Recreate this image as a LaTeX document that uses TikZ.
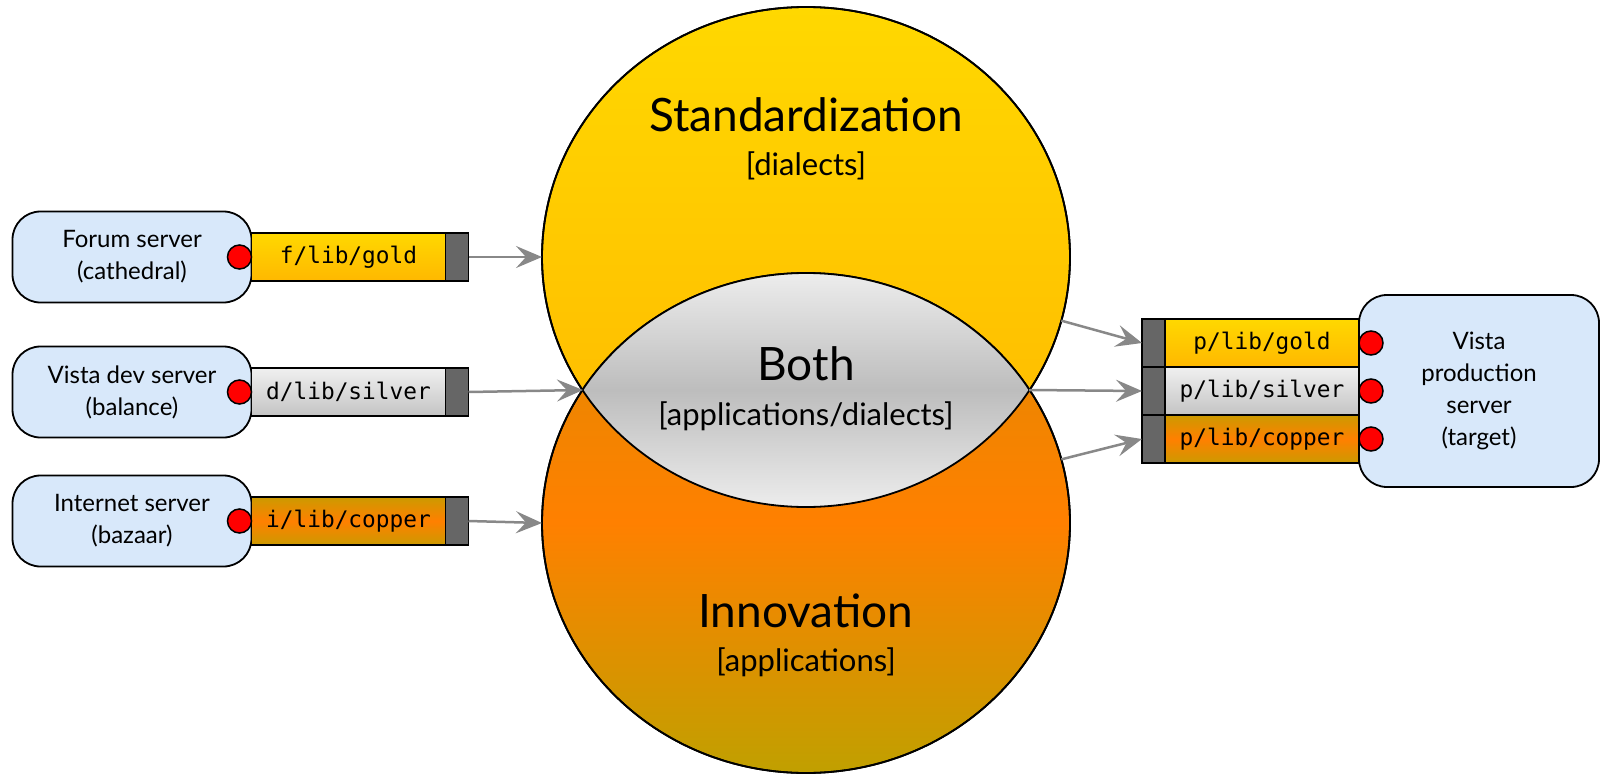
\documentclass[tikz,border=0pt]{standalone}
\usepackage{fontspec}
\setmainfont{Lato}
\setmonofont{DejaVu Sans Mono}
\usetikzlibrary{positioning,shapes.geometric,arrows.meta}

\definecolor{goldtop}{HTML}{FFD800}
\definecolor{goldbot}{HTML}{FFB800}
\definecolor{innertop}{HTML}{E08A00}
\definecolor{coppermid}{HTML}{FF8000}
\definecolor{copperedge}{HTML}{CC9A00}
\definecolor{innerbot}{HTML}{C0A000}
\definecolor{silvertop}{HTML}{F0F0F0}
\definecolor{silverbot}{HTML}{C4C4C4}
\definecolor{lensedge}{HTML}{EDEDED}
\definecolor{lensmid}{HTML}{BDBDBD}
\definecolor{serverblue}{HTML}{D8E8FA}
\definecolor{plugray}{HTML}{666666}
\definecolor{feedgray}{HTML}{888888}

\tikzset{
  server/.style={draw, line width=1.8pt, rounded corners=28pt, fill=serverblue,
    minimum width=239pt, minimum height=91pt, inner sep=0pt, outer sep=0pt,
    align=center, font=\fontsize{24}{32}\selectfont},
  libbar/.style={draw, line width=1.6pt, minimum width=194pt, minimum height=48pt,
    inner sep=0pt, outer sep=0pt, font=\ttfamily\fontsize{22.8}{24}\selectfont},
  goldbar/.style={libbar, top color=goldtop, bottom color=goldbot},
  silverbar/.style={libbar, top color=silvertop, bottom color=silverbot},
  copperbar/.style={libbar, top color=copperedge, bottom color=copperedge, middle color=coppermid},
  plug/.style={draw, line width=1.6pt, fill=plugray, minimum width=23pt,
    minimum height=48pt, inner sep=0pt, outer sep=0pt},
  port/.style={circle, draw, line width=1.5pt, fill=red, minimum size=24pt,
    inner sep=0pt, outer sep=0pt},
  feed/.style={draw=feedgray, line width=2.5pt, -{Stealth[length=26pt,width=22pt,inset=10pt]}},
  realm/.style={ellipse, draw, line width=1.8pt, minimum width=528pt,
    minimum height=500pt, inner sep=0pt, outer sep=0pt},
  title/.style={font=\fontsize{46}{50}\selectfont, inner sep=0pt},
  subtitle/.style={font=\fontsize{31}{34}\selectfont, inner sep=0pt},
}

\begin{document}
\begin{tikzpicture}[x=1pt,y=-1pt]
  \useasboundingbox (0,0) rectangle (1603,776);

  % Define the two realms and their overlap
  \node[realm, top color=goldtop, bottom color=goldbot] (std) at (806,257) {};
  \node[realm, top color=innertop, bottom color=innerbot, middle color=coppermid] (inn) at (806,523) {};
  \begin{scope}
    \clip (806,257) ellipse [x radius=264, y radius=250];
    \clip (806,523) ellipse [x radius=264, y radius=250];
    \shade[top color=lensedge, bottom color=lensedge, middle color=lensmid] (540,272) rectangle (1072,508);
  \end{scope}
  \draw[line width=1.8pt] (806,257) ellipse [x radius=264, y radius=250];
  \draw[line width=1.8pt] (806,523) ellipse [x radius=264, y radius=250];
  \coordinate (lensL) at (583,390);
  \coordinate (lensR) at (1029,390);

  \node[title]    (stdname) at (806,115) {Standardization};
  \node[subtitle] (stdsub)  at (806,166) {[dialects]};
  \node[title]    (bothname) at (806,364) {Both};
  \node[subtitle] (bothsub)  at (806,416) {[applications/dialects]};
  \node[title]    (innname) at (806,611) {Innovation};
  \node[subtitle] (innsub)  at (806,662) {[applications]};

  % Define the source servers
  \node[server] (fsrv) at (132,257) {Forum server\\(cathedral)};
  \node[goldbar, right=0pt of fsrv]    (fgold) {f/lib/gold};
  \node[plug, right=0pt of fgold]      (fplug) {};
  \node[port, left=0pt of fgold]       (fport) {};

  \node[server] (dsrv) at (132,392) {Vista dev server\\(balance)};
  \node[silverbar, right=0pt of dsrv]  (dsilver) {d/lib/silver};
  \node[plug, right=0pt of dsilver]    (dplug) {};
  \node[port, left=0pt of dsilver]     (dport) {};

  \node[server] (isrv) at (132,521) {Internet server\\(bazaar)};
  \node[copperbar, right=0pt of isrv]  (icopper) {i/lib/copper};
  \node[plug, right=0pt of icopper]    (iplug) {};
  \node[port, left=0pt of icopper]     (iport) {};

  % Define the target server
  \node[silverbar] (psilver) at (1262,391) {p/lib/silver};
  \node[goldbar, above=0pt of psilver]   (pgold) {p/lib/gold};
  \node[copperbar, below=0pt of psilver] (pcopper) {p/lib/copper};
  \node[plug, left=0pt of pgold]    (pgplug) {};
  \node[plug, left=0pt of psilver]  (psplug) {};
  \node[plug, left=0pt of pcopper]  (pcplug) {};
  \node[server, minimum width=240pt, minimum height=192pt, right=0pt of psilver] (psrv)
    {Vista\\production\\server\\(target)};
  \node[port, right=0pt of pgold]   (pgport) {};
  \node[port, right=0pt of psilver] (psport) {};
  \node[port, right=0pt of pcopper] (pcport) {};

  % Connect the nodes
  \draw[feed] (fplug.east) -- (std.west);
  \draw[feed] (dplug.east) -- (lensL);
  \draw[feed] (iplug.east) -- (inn.west);
  \draw[feed] (std.-14) -- (pgplug.west);
  \draw[feed] (lensR) -- (psplug.west);
  \draw[feed] (inn.14) -- (pcplug.west);

\end{tikzpicture}
\end{document}
